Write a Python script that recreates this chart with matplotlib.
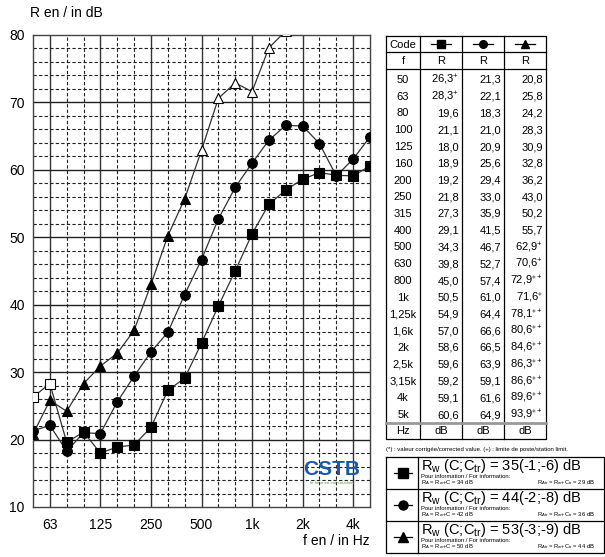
import matplotlib
matplotlib.use("Agg")
import matplotlib.pyplot as plt

plt.rcParams['font.family'] = ['Liberation Sans', 'DejaVu Sans']
plt.rcParams['mathtext.fontset'] = 'custom'
plt.rcParams['mathtext.rm'] = 'Liberation Sans'
plt.rcParams['mathtext.it'] = 'Liberation Sans:italic'

# ==========================================
# Data (third octave bands, R in dB)
# ==========================================

freq_labels = ["50", "63", "80", "100", "125", "160", "200", "250", "315",
               "400", "500", "630", "800", "1k", "1,25k", "1,6k", "2k",
               "2,5k", "3,15k", "4k", "5k"]

r_square = [26.3, 28.3, 19.6, 21.1, 18.0, 18.9, 19.2, 21.8, 27.3, 29.1, 34.3,
            39.8, 45.0, 50.5, 54.9, 57.0, 58.6, 59.6, 59.2, 59.1, 60.6]
r_circle = [21.3, 22.1, 18.3, 21.0, 20.9, 25.6, 29.4, 33.0, 35.9, 41.5, 46.7,
            52.7, 57.4, 61.0, 64.4, 66.6, 66.5, 63.9, 59.1, 61.6, 64.9]
r_triangle = [20.8, 25.8, 24.2, 28.3, 30.9, 32.8, 36.2, 43.0, 50.2, 55.7, 62.9,
              70.6, 72.9, 71.6, 78.1, 80.6, 84.6, 86.3, 86.6, 89.6, 93.9]

# superscript flags shown in the table (* corrected, + station limit)
flags_square = ["+", "+"] + [""] * 19
flags_circle = [""] * 21
flags_triangle = [""] * 10 + ["+", "+", "*+", "*", "*+", "*+", "*+", "*+",
                               "*+", "*+", "*+"]

xtick_pos = [1, 4, 7, 10, 13, 16, 19]
xtick_labels = ["63", "125", "250", "500", "1k", "2k", "4k"]

rw_lines = ["35(-1;-6) dB", "44(-2;-8) dB", "53(-3;-9) dB"]
ra_values = [34, 42, 50]
ratr_values = [29, 36, 44]

series = [(r_square, flags_square, "s", 7),
          (r_circle, flags_circle, "o", 7),
          (r_triangle, flags_triangle, "^", 6.5)]

# ==========================================
# Figure
# ==========================================

fig = plt.figure(figsize=(6.05, 5.57), dpi=100)
W, H = 605, 557

ax = fig.add_axes([33 / W, 1 - 507 / H, 337 / W, 472 / H])
ax.set_xlim(0, 20)
ax.set_ylim(10, 80)

# grid
for i in range(1, 20):
    if i % 3 == 1:
        ax.axvline(i, color="#333333", lw=1.0, zorder=1)
    else:
        ax.axvline(i, color="#222222", lw=0.8, ls=(0, (3, 2)), zorder=1)
for v in range(12, 80, 2):
    if v % 10 == 0:
        ax.axhline(v, color="#222222", lw=1.0, zorder=1)
    else:
        ax.axhline(v, color="#222222", lw=0.8, ls=(0, (3, 2)), zorder=1)

for s in ax.spines.values():
    s.set_color("#444444")
    s.set_linewidth(1.0)

ax.set_xticks(xtick_pos)
ax.set_xticklabels(xtick_labels)
ax.set_yticks(range(10, 81, 10))
ax.tick_params(length=0, labelsize=10, pad=8)
ax.tick_params(axis="y", pad=6)

idx = list(range(len(freq_labels)))
for vals, flags, mk, ms in series:
    ax.plot(idx, vals, color="#333333", lw=0.9, zorder=3)
    for i, (v, fl) in enumerate(zip(vals, flags)):
        face = "white" if fl else "black"
        ax.plot(i, v, marker=mk, ms=ms, mfc=face, mec="black", mew=0.8,
                ls="none", zorder=4)

# logo
ax.text(17.75, 14.2, "CSTB", color="#1d5aa6", fontsize=15, fontweight="bold",
        ha="center", va="bottom", zorder=5)
ax.text(17.75, 13.3, "le futur en construction", color="#5a9e3a",
        fontsize=3.2, ha="center", va="bottom", zorder=5)

# ==========================================
# Overlay in pixel coordinates
# ==========================================

ov = fig.add_axes([0, 0, 1, 1])
ov.set_xlim(0, W)
ov.set_ylim(H, 0)
ov.axis("off")

ov.text(30, 13, "R en / in dB", fontsize=10, ha="left", va="center")
ov.text(370, 541, "f en / in Hz", fontsize=10, ha="right", va="center")

# table
tl, tr = 386, 546
cols = [386, 420, 462, 504, 546]
ytop, y_code, y_f = 36, 52, 69
row0, dy = 80, 16.75
y_grey = 423
ybot = 439
tfs = 8

ov.plot([tl, tr, tr, tl, tl], [ytop, ytop, ybot, ybot, ytop], color="black",
        lw=0.9)
for c in cols[1:-1]:
    ov.plot([c, c], [ytop, ybot], color="black", lw=0.9)
ov.plot([tl, tr], [y_code, y_code], color="black", lw=0.9)
ov.plot([tl, tr], [y_f, y_f], color="black", lw=0.9)
ov.plot([tl, tr], [y_grey, y_grey], color="#999999", lw=2.0)

ov.text(403, 44.5, "Code", fontsize=tfs, ha="center", va="center")
ov.text(403, 61, "f", fontsize=tfs, ha="center", va="center")
for k, (vals, flags, mk, ms) in enumerate(series):
    cx = (cols[k + 1] + cols[k + 2]) / 2
    ov.plot([cx - 10, cx + 10], [44, 44], color="black", lw=0.9)
    ov.plot(cx, 44, marker=mk, ms=5.5, color="black", ls="none")
    ov.text(cx, 61, "R", fontsize=tfs, ha="center", va="center")
    ov.text(cx, 431, "dB", fontsize=tfs, ha="center", va="center")
    for i, (v, fl) in enumerate(zip(vals, flags)):
        s = f"{v:.1f}".replace(".", ",")
        if fl:
            s += "$^{" + fl.replace("*", r"\ast") + "}$"
        ov.text(cols[k + 2] - 3, row0 + i * dy, s, fontsize=tfs, ha="right",
                va="center")
for i, f in enumerate(freq_labels):
    ov.text(403, row0 + i * dy, f, fontsize=tfs, ha="center", va="center")
ov.text(403, 431, "Hz", fontsize=tfs, ha="center", va="center")

ov.text(386, 449, "(*) : valeur corrigée/corrected value. (+) : limite de "
        "poste/station limit.", fontsize=4.3, ha="left", va="center")

# legend boxes
lt, lr, ldiv = 386, 604, 418
lrows = [457, 489, 521, 553]
ov.plot([lt, lr, lr, lt, lt], [lrows[0], lrows[0], lrows[-1], lrows[-1],
        lrows[0]], color="black", lw=0.9)
ov.plot([ldiv, ldiv], [lrows[0], lrows[-1]], color="black", lw=0.9)
for y in lrows[1:-1]:
    ov.plot([lt, lr], [y, y], color="black", lw=0.9)
for k, (vals, flags, mk, ms) in enumerate(series):
    yc = (lrows[k] + lrows[k + 1]) / 2
    ov.plot([394, 412], [yc, yc], color="black", lw=0.9)
    ov.plot(403, yc, marker=mk, ms=6.5, color="black", ls="none")
    ov.text(421, lrows[k] + 9, r"R$_\mathrm{w}$ (C;C$_\mathrm{tr}$) = "
            + rw_lines[k], fontsize=10.5, ha="left", va="center")
    ov.text(421, lrows[k] + 20, "Pour information / For information:",
            fontsize=4.2, ha="left", va="center")
    ov.text(421, lrows[k] + 26, r"R$_\mathrm{A}$ = R$_\mathrm{w}$+C = "
            f"{ra_values[k]} dB", fontsize=4.2, ha="left", va="center")
    ov.text(537, lrows[k] + 26, r"R$_\mathrm{Atr}$ = R$_\mathrm{w}$+C$_\mathrm{tr}$ = "
            f"{ratr_values[k]} dB", fontsize=4.2, ha="left", va="center")

fig.savefig("out.png", dpi=100)
